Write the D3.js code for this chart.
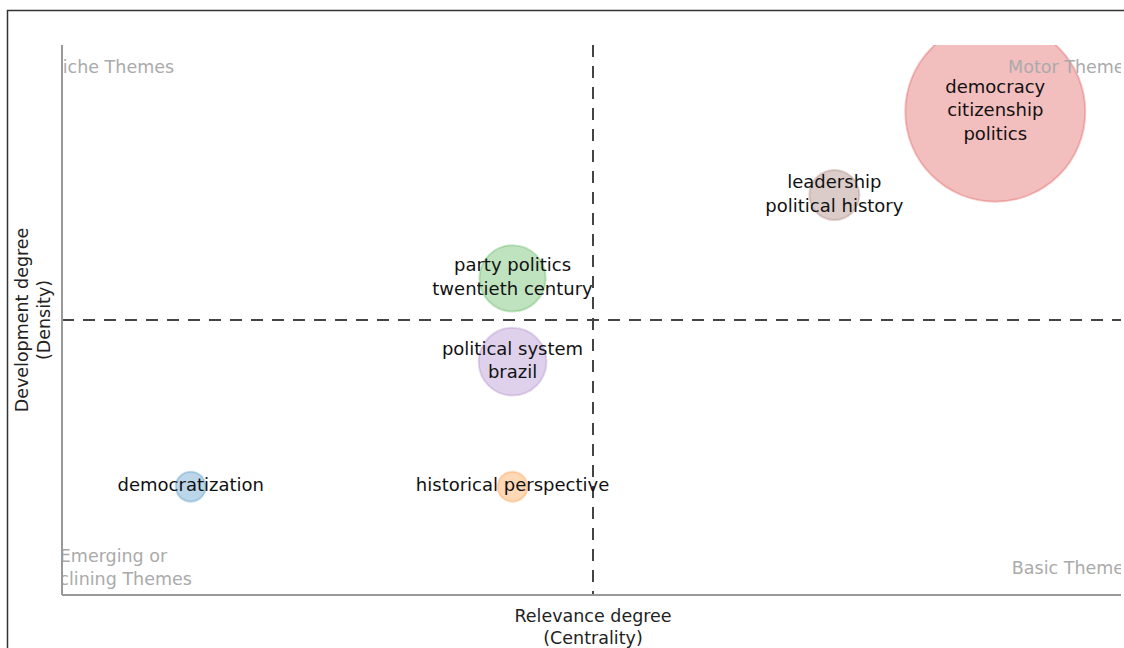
<!DOCTYPE html>
<html>
<head>
<meta charset="utf-8">
<script src="https://cdn.jsdelivr.net/npm/d3@7"></script>
<style>
  body { margin: 0; background: #fff; }
  svg { display: block; font-family: "DejaVu Sans", Verdana, sans-serif; }
</style>
</head>
<body>
<svg width="1124" height="648"></svg>
<script>
// clusters of the thematic map (rank centrality / rank density, frequency)
const clusters = [
    ["democracy", "citizenship", "politics"],
    ["leadership", "political history"],
    ["party politics", "twentieth century"],
    ["political system", "brazil"],
    ["democratization"],
    ["historical perspective"]
];
const centrality = [6, 5, 3, 3, 1, 3];
const density = [6, 5, 4, 3, 1.5, 1.5];
const freq = [324, 25, 44, 46, 9, 9];
// index into d3.schemeCategory10
const colorIndex = [3, 5, 2, 4, 0, 1];

const quadrantLabels = [
    { text: ["Niche Themes"], x: 0.51, y: 6.54 },
    { text: ["Motor Themes"], x: 6.47, y: 6.54 },
    { text: ["Emerging or", "Declining Themes"], x: 0.52, y: 0.53 },
    { text: ["Basic Themes"], x: 6.48, y: 0.52 }
];

const svg = d3.select("svg");
const plotLeft = 62, plotRight = 1121, plotTop = 45, plotBottom = 595;

// outer frame
svg.append("path")
    .attr("d", "M7.5,648 V10.5 H1124")
    .attr("fill", "none")
    .attr("stroke", "#333")
    .attr("stroke-width", 1.5);

const x = d3.scaleLinear().domain([0.2, 6.8]).range([plotLeft, 1124]);
const y = d3.scaleLinear().domain([0.2, 6.8]).range([plotBottom, plotTop]);
const r = d3.scaleSqrt().domain([0, 324]).range([0, 90]);
const color = i => d3.schemeCategory10[colorIndex[i]];

svg.append("clipPath").attr("id", "plot")
    .append("rect")
    .attr("x", plotLeft).attr("y", plotTop)
    .attr("width", plotRight - plotLeft).attr("height", plotBottom - plotTop);

const g = svg.append("g").attr("clip-path", "url(#plot)");

const data = clusters.map((words, i) => ({
    words: words, cx: centrality[i], cy: density[i], n: freq[i], i: i
}));

// bubbles, biggest first
g.selectAll(".bubble")
    .data(data.slice().sort((a, b) => b.n - a.n))
    .enter().append("circle")
    .attr("class", "bubble")
    .attr("cx", d => x(d.cx))
    .attr("cy", d => y(d.cy))
    .attr("r", d => r(d.n))
    .attr("fill", d => color(d.i))
    .attr("fill-opacity", 0.3)
    .attr("stroke", d => color(d.i))
    .attr("stroke-opacity", 0.25)
    .attr("stroke-width", 2);

// mean lines
const midX = d3.mean(x.domain()), midY = d3.mean(y.domain());
g.append("line")
    .attr("x1", x(midX)).attr("x2", x(midX))
    .attr("y1", plotTop).attr("y2", plotBottom)
    .attr("stroke", "#444").attr("stroke-width", 2)
    .attr("stroke-dasharray", "12,9");
g.append("line")
    .attr("x1", plotLeft).attr("x2", plotRight)
    .attr("y1", y(midY)).attr("y2", y(midY))
    .attr("stroke", "#444").attr("stroke-width", 2)
    .attr("stroke-dasharray", "12,9");

// quadrant labels
quadrantLabels.forEach(q => {
    const t = g.append("text")
        .attr("text-anchor", "middle")
        .attr("fill", "#aaa")
        .attr("font-size", 17.5)
        .attr("y", y(q.y) - (q.text.length - 1) * 11.5);
    q.text.forEach((s, k) => {
        t.append("tspan").attr("x", x(q.x)).attr("dy", k === 0 ? "0.35em" : 23).text(s);
    });
});

// cluster labels
data.forEach(d => {
    const t = g.append("text")
        .attr("text-anchor", "middle")
        .attr("fill", "#111")
        .attr("font-size", 18)
        .attr("y", y(d.cy) - 1.5 - (d.words.length - 1) * 11.8);
    d.words.forEach((w, k) => {
        t.append("tspan").attr("x", x(d.cx)).attr("dy", k === 0 ? "0.35em" : 23.6).text(w);
    });
});

// axes lines
svg.append("line")
    .attr("x1", plotLeft).attr("x2", plotLeft).attr("y1", plotTop).attr("y2", plotBottom)
    .attr("stroke", "#999").attr("stroke-width", 2);
svg.append("line")
    .attr("x1", plotLeft).attr("x2", plotRight).attr("y1", plotBottom).attr("y2", plotBottom)
    .attr("stroke", "#999").attr("stroke-width", 2);

// axis titles
const xt = svg.append("text").attr("text-anchor", "middle").attr("fill", "#222").attr("font-size", 17.5);
xt.append("tspan").attr("x", x(midX)).attr("y", 622).text("Relevance degree");
xt.append("tspan").attr("x", x(midX)).attr("y", 644).text("(Centrality)");

const yt = svg.append("text").attr("text-anchor", "middle").attr("fill", "#222").attr("font-size", 17.5)
    .attr("transform", `translate(0,${y(midY)}) rotate(-90)`);
yt.append("tspan").attr("x", 0).attr("y", 28).text("Development degree");
yt.append("tspan").attr("x", 0).attr("y", 50).text("(Density)");
</script>
</body>
</html>
